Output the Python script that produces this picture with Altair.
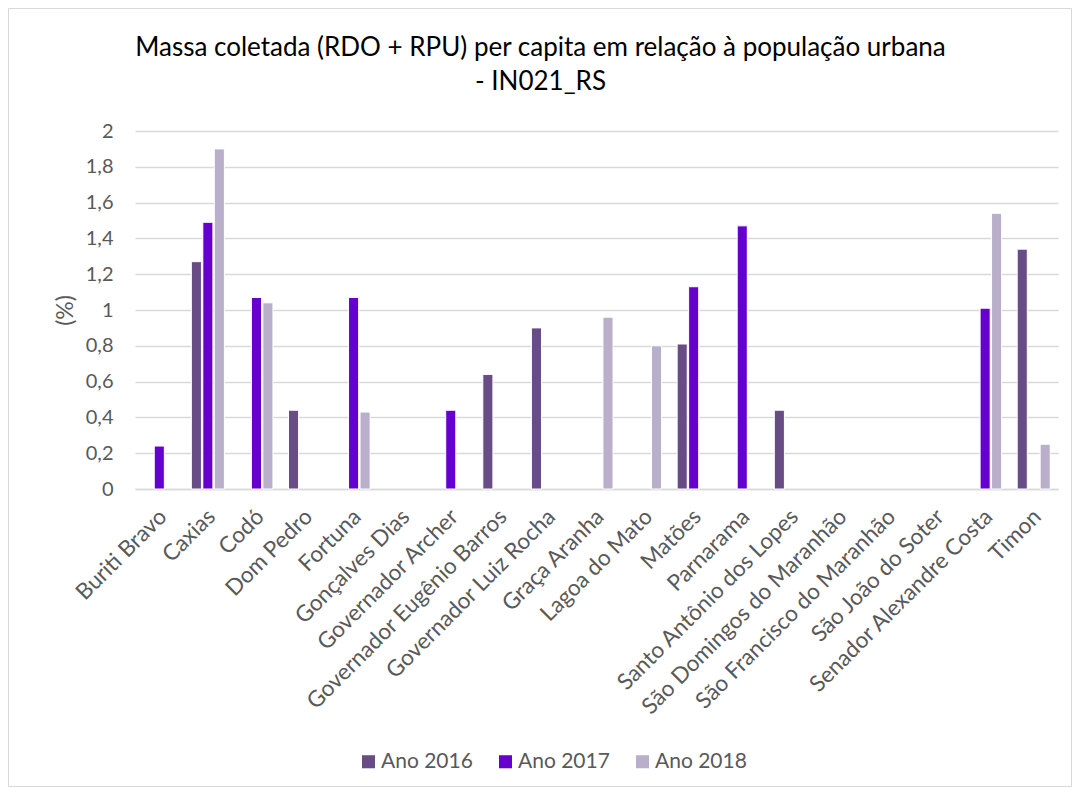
import altair as alt
import pandas as pd

categories = ["Buriti Bravo", "Caxias", "Codó", "Dom Pedro", "Fortuna", "Gonçalves Dias",
              "Governador Archer", "Governador Eugênio Barros", "Governador Luiz Rocha",
              "Graça Aranha", "Lagoa do Mato", "Matões", "Parnarama", "Santo Antônio dos Lopes",
              "São Domingos do Maranhão", "São Francisco do Maranhão", "São João do Soter",
              "Senador Alexandre Costa", "Timon"]
years = ["Ano 2016", "Ano 2017", "Ano 2018"]
ano_2016 = [None, 1.27, None, 0.44, None, None, None, 0.64, 0.90, None, None, 0.81, None, 0.44, None, None, None, None, 1.34]
ano_2017 = [0.24, 1.49, 1.07, None, 1.07, None, 0.44, None, None, None, None, 1.13, 1.47, None, None, None, None, 1.01, None]
ano_2018 = [None, 1.90, 1.04, None, 0.43, None, None, None, None, 0.96, 0.80, None, None, None, None, None, None, 1.54, 0.25]
colors = ["#674C86", "#6600CC", "#BAAFCA"]
y_ticks = [0, 0.2, 0.4, 0.6, 0.8, 1, 1.2, 1.4, 1.6, 1.8, 2]

rows = []
for yr, vals in zip(years, [ano_2016, ano_2017, ano_2018]):
    for c, v in zip(categories, vals):
        if v is not None:
            rows.append({"Município": c, "Ano": yr, "Valor": v})
df = pd.DataFrame(rows)

FONT = "Lato"
W, H = 923, 358

bars = alt.Chart(df).mark_bar(stroke="white", strokeWidth=1).encode(
    x=alt.X("Município:N", sort=categories,
            scale=alt.Scale(domain=categories, paddingInner=0.32, paddingOuter=0.16),
            axis=alt.Axis(title=None, labelAngle=-45, ticks=False, domainColor="#D9D9D9",
                          domainWidth=1.5, labelFontSize=22.5, labelColor="#595959",
                          labelFont=FONT, labelPadding=16, labelOffset=-4, labelLimit=400)),
    xOffset=alt.XOffset("Ano:N", scale=alt.Scale(domain=years, paddingInner=0.12, paddingOuter=0.0)),
    y=alt.Y("Valor:Q", scale=alt.Scale(domain=[0, 2]),
            axis=alt.Axis(title="(%)", values=y_ticks,
                          labelExpr="replace(format(datum.value, '.1~f'), '.', ',')",
                          domain=False, ticks=False, gridColor="#D9D9D9", gridWidth=1.5,
                          labelFontSize=20, labelColor="#595959", labelFont=FONT,
                          labelPadding=22, titleFontSize=23, titleColor="#595959",
                          titleFont=FONT, titleFontWeight="normal", titlePadding=8)),
    color=alt.Color("Ano:N", scale=alt.Scale(domain=years, range=colors),
                    legend=alt.Legend(title=None, orient="none", direction="horizontal",
                                      legendX=223, legendY=620, symbolType="square",
                                      symbolSize=170, symbolStrokeWidth=0,
                                      labelFontSize=21, labelColor="#595959", labelFont=FONT,
                                      labelOffset=2, columnPadding=22, symbolOffset=0)),
)

border = alt.Chart(alt.Data(values=[{}])).mark_rect(fill=None, stroke="#D9D9D9", strokeWidth=1).encode(
    x=alt.value(-126.5), x2=alt.value(W + 13.5), y=alt.value(-122.5), y2=alt.value(H + 297.5)
)

chart = alt.layer(border, bars).properties(
    width=W, height=H,
    title=alt.TitleParams(
        ["Massa coletada (RDO + RPU) per capita em relação à população urbana", "- IN021_RS"],
        fontSize=26, font=FONT, fontWeight="normal", color="#000000", anchor="middle",
        offset=-87, dx=-56, lineHeight=34),
    autosize=alt.AutoSizeParams(type="none"),
    padding={"left": 127, "top": 123, "right": 14, "bottom": 298},
).configure_view(stroke=None)

chart.save("out.html", embed_options={"renderer": "svg", "actions": False})
